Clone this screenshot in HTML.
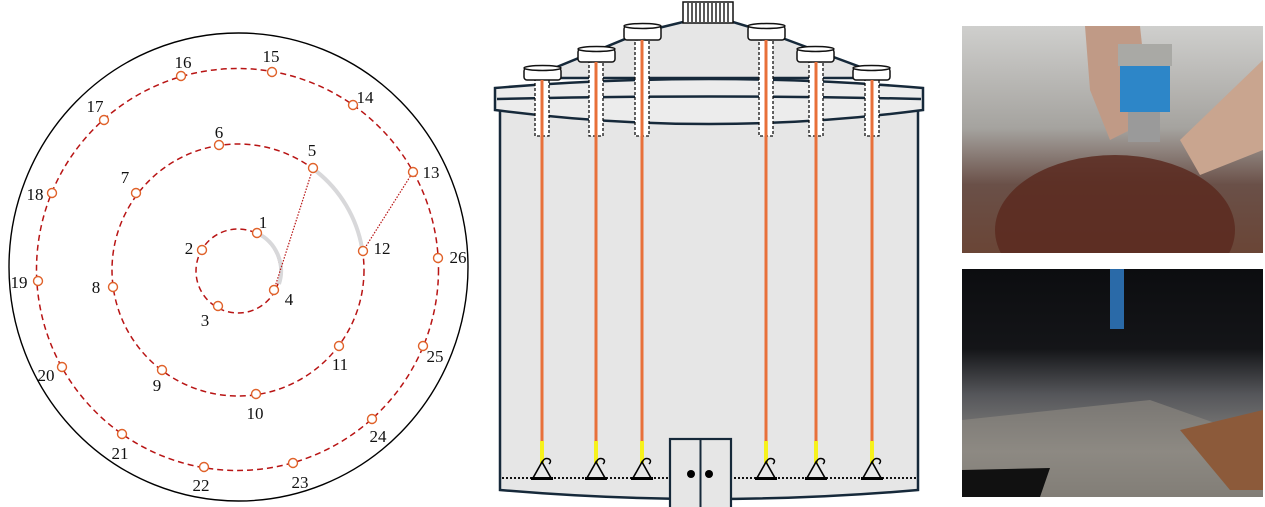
<!DOCTYPE html>
<html><head><meta charset="utf-8"><style>
html,body{margin:0;padding:0;background:#fff;}
svg{display:block;}
text{font-family:"Liberation Serif",serif;font-size:17px;fill:#111;}
</style></head><body>
<svg width="1265" height="507" viewBox="0 0 1265 507" xmlns="http://www.w3.org/2000/svg">
<defs>
<linearGradient id="p1" x1="0" y1="0" x2="0" y2="1">
<stop offset="0" stop-color="#cfcfcd"/><stop offset="0.45" stop-color="#a5a39f"/><stop offset="0.7" stop-color="#6a5048"/><stop offset="1" stop-color="#6a4536"/>
</linearGradient>
<linearGradient id="p2" x1="0" y1="0" x2="0" y2="1">
<stop offset="0" stop-color="#0c0d10"/><stop offset="0.35" stop-color="#141518"/><stop offset="0.55" stop-color="#55565a"/><stop offset="0.8" stop-color="#8a8884"/><stop offset="1" stop-color="#6e6b66"/>
</linearGradient>
<clipPath id="c1"><rect x="962" y="26" width="301" height="227"/></clipPath>
<clipPath id="c2"><rect x="962" y="269" width="301" height="228"/></clipPath>
<g id="wt">
<path d="M0,-16 L-9,0 L9,0 Z" fill="none" stroke="#000" stroke-width="1.6"/>
<rect x="-11" y="-1" width="22" height="3" fill="#000"/>
<path d="M0,-15 q2,-6 7,-4 q3,2 0,5" fill="none" stroke="#000" stroke-width="1.5"/>
</g>
</defs>

<!-- LEFT: circles -->
<ellipse cx="238.5" cy="267" rx="229.5" ry="234" fill="none" stroke="#000" stroke-width="1.4"/>
<circle cx="238" cy="271" r="42" fill="none" stroke="#b81414" stroke-width="1.5" stroke-dasharray="6,4"/>
<circle cx="238" cy="270" r="126" fill="none" stroke="#b81414" stroke-width="1.5" stroke-dasharray="6,4"/>
<circle cx="237.5" cy="269.5" r="201" fill="none" stroke="#b81414" stroke-width="1.5" stroke-dasharray="6,4"/>
<path d="M257,233 A42,42 0 0 1 279,284" fill="none" stroke="#d8d8da" stroke-width="4"/>
<path d="M316,171 A126,126 0 0 1 362,248" fill="none" stroke="#d8d8da" stroke-width="4"/>
<line x1="274" y1="290" x2="313" y2="168" stroke="#b81414" stroke-width="1.2" stroke-dasharray="1.5,1.5"/>
<line x1="363" y1="251" x2="413" y2="172" stroke="#b81414" stroke-width="1.2" stroke-dasharray="1.5,1.5"/>
<g fill="#fff" stroke="#e0622a" stroke-width="1.4">
<circle cx="257" cy="233" r="4.5"/><circle cx="202" cy="250" r="4.5"/><circle cx="218" cy="306" r="4.5"/><circle cx="274" cy="290" r="4.5"/>
<circle cx="313" cy="168" r="4.5"/><circle cx="219" cy="145" r="4.5"/><circle cx="136" cy="193" r="4.5"/><circle cx="113" cy="287" r="4.5"/>
<circle cx="162" cy="370" r="4.5"/><circle cx="256" cy="394" r="4.5"/><circle cx="339" cy="346" r="4.5"/><circle cx="363" cy="251" r="4.5"/>
<circle cx="413" cy="172" r="4.5"/><circle cx="353" cy="105" r="4.5"/><circle cx="272" cy="72" r="4.5"/><circle cx="181" cy="76" r="4.5"/>
<circle cx="104" cy="120" r="4.5"/><circle cx="52" cy="193" r="4.5"/><circle cx="38" cy="281" r="4.5"/><circle cx="62" cy="367" r="4.5"/>
<circle cx="122" cy="434" r="4.5"/><circle cx="204" cy="467" r="4.5"/><circle cx="293" cy="463" r="4.5"/><circle cx="372" cy="419" r="4.5"/>
<circle cx="423" cy="346" r="4.5"/><circle cx="438" cy="258" r="4.5"/>
</g>
<g text-anchor="middle">
<text x="263" y="228">1</text><text x="189" y="254">2</text><text x="205" y="326">3</text><text x="289" y="305">4</text>
<text x="312" y="156">5</text><text x="219" y="138">6</text><text x="125" y="183">7</text><text x="96" y="293">8</text>
<text x="157" y="391">9</text><text x="255" y="419">10</text><text x="340" y="370">11</text><text x="382" y="254">12</text>
<text x="431" y="178">13</text><text x="365" y="103">14</text><text x="271" y="62">15</text><text x="183" y="68">16</text>
<text x="95" y="112">17</text><text x="35" y="200">18</text><text x="19" y="288">19</text><text x="46" y="381">20</text>
<text x="120" y="459">21</text><text x="201" y="491">22</text><text x="300" y="488">23</text><text x="378" y="442">24</text>
<text x="435" y="362">25</text><text x="458" y="263">26</text>
</g>

<!-- MIDDLE: tank -->
<g stroke="#16293a" stroke-width="2.5" fill="#e6e6e6">
<path d="M500,110 L500,490 Q709,508 918,490 L918,110 Z"/>
<path d="M530,78 L642,32 L683,22 L733,22 L766,32 L890,78 Z"/>
<path d="M495,88 Q709,70 923,88 L923,110 Q709,138 495,110 Z" fill="#ececec"/>
<path d="M497,99 Q709,94 921,99" fill="none"/>
</g>
<rect x="683" y="2" width="50" height="21" fill="#fff" stroke="#111" stroke-width="1.5"/>
<g stroke="#111" stroke-width="1.4">
<line x1="688" y1="3" x2="688" y2="22"/><line x1="692" y1="3" x2="692" y2="22"/><line x1="696" y1="3" x2="696" y2="22"/><line x1="700" y1="3" x2="700" y2="22"/><line x1="704" y1="3" x2="704" y2="22"/><line x1="708" y1="3" x2="708" y2="22"/><line x1="712" y1="3" x2="712" y2="22"/><line x1="716" y1="3" x2="716" y2="22"/><line x1="720" y1="3" x2="720" y2="22"/><line x1="724" y1="3" x2="724" y2="22"/><line x1="728" y1="3" x2="728" y2="22"/>
</g>
<!-- probes -->
<g>
<g fill="#fff" stroke="#111" stroke-width="1.3" stroke-dasharray="3,2">
<rect x="535" y="79" width="14" height="57"/>
<rect x="589" y="62" width="14" height="74"/>
<rect x="635" y="40" width="14" height="96"/>
<rect x="759" y="40" width="14" height="96"/>
<rect x="809" y="62" width="14" height="74"/>
<rect x="865" y="79" width="14" height="57"/>
</g>
<g fill="#fff" stroke="#111" stroke-width="1.5">
<rect x="524" y="68" width="37" height="12" rx="3"/>
<ellipse cx="542.5" cy="68" rx="18.5" ry="2.5"/>
<rect x="578" y="49" width="37" height="13" rx="3"/>
<ellipse cx="596.5" cy="49" rx="18.5" ry="2.5"/>
<rect x="624" y="26" width="37" height="14" rx="3"/>
<ellipse cx="642.5" cy="26" rx="18.5" ry="2.5"/>
<rect x="748" y="26" width="37" height="14" rx="3"/>
<ellipse cx="766.5" cy="26" rx="18.5" ry="2.5"/>
<rect x="797" y="49" width="37" height="13" rx="3"/>
<ellipse cx="815.5" cy="49" rx="18.5" ry="2.5"/>
<rect x="853" y="68" width="37" height="12" rx="3"/>
<ellipse cx="871.5" cy="68" rx="18.5" ry="2.5"/>
</g>
<g stroke="#e8703a" stroke-width="3">
<line x1="542" y1="80" x2="542" y2="442"/><line x1="596" y1="62" x2="596" y2="442"/><line x1="642" y1="40" x2="642" y2="442"/>
<line x1="766" y1="40" x2="766" y2="442"/><line x1="816" y1="62" x2="816" y2="442"/><line x1="872" y1="80" x2="872" y2="442"/>
</g>
<g stroke="#f6f21c" stroke-width="4">
<line x1="542" y1="441" x2="542" y2="463"/><line x1="596" y1="441" x2="596" y2="463"/><line x1="642" y1="441" x2="642" y2="463"/>
<line x1="766" y1="441" x2="766" y2="463"/><line x1="816" y1="441" x2="816" y2="463"/><line x1="872" y1="441" x2="872" y2="463"/>
</g>
<line x1="502" y1="478" x2="916" y2="478" stroke="#111" stroke-width="2" stroke-dasharray="2,2"/>
<use href="#wt" x="542" y="478"/><use href="#wt" x="596" y="478"/><use href="#wt" x="642" y="478"/>
<use href="#wt" x="766" y="478"/><use href="#wt" x="816" y="478"/><use href="#wt" x="872" y="478"/>
</g>
<rect x="670" y="439" width="61" height="70" fill="#e6e6e6" stroke="#16293a" stroke-width="2.2"/>
<line x1="700.5" y1="439" x2="700.5" y2="507" stroke="#16293a" stroke-width="2"/>
<circle cx="691" cy="474" r="4" fill="#000"/><circle cx="709" cy="474" r="4" fill="#000"/>

<!-- RIGHT: photos -->
<g clip-path="url(#c1)">
<rect x="962" y="26" width="301" height="227" fill="url(#p1)"/>
<ellipse cx="1115" cy="230" rx="120" ry="75" fill="#5a2a20" opacity="0.85"/>
<path d="M1085,26 L1140,26 L1150,120 L1110,140 L1090,90 Z" fill="#c09a86"/>
<rect x="1120" y="62" width="50" height="50" fill="#2d86c8"/>
<rect x="1118" y="44" width="54" height="22" fill="#a9a9a5"/>
<rect x="1128" y="112" width="32" height="30" fill="#9a9a9a"/>
<path d="M1180,140 L1263,60 L1263,150 L1200,175 Z" fill="#c9a58f"/>
</g>
<g clip-path="url(#c2)">
<rect x="962" y="269" width="301" height="228" fill="url(#p2)"/>
<rect x="1110" y="269" width="14" height="60" fill="#2a6aa8"/>
<path d="M962,420 L1150,400 L1263,440 L1263,497 L962,497 Z" fill="#8f8a82" opacity="0.6"/>
<path d="M1180,430 L1263,410 L1263,490 L1230,490 Z" fill="#8c5a3a"/>
<path d="M962,470 L1050,468 L1040,497 L962,497 Z" fill="#111"/>
</g>
</svg>
</body></html>
